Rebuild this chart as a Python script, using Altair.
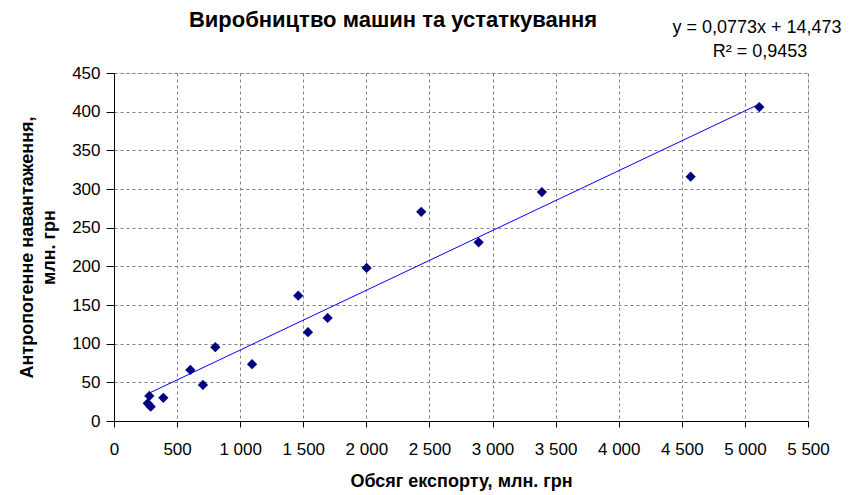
import altair as alt
import pandas as pd

export_vals = [267, 280, 291, 391, 605, 705, 803, 1094, 1460, 1537, 1693, 2002, 2435, 2890, 3391, 4570, 5114]
load_vals = [22.9, 32.4, 18.5, 30, 66, 46.6, 95.4, 73.4, 162, 114.8, 133.3, 198, 270.5, 231, 296, 316, 406]
slope = 0.0773
intercept = 14.473

title_text = "Виробництво машин та устаткування"
eq_line1 = "y = 0,0773x + 14,473"
eq_line2 = "R² = 0,9453"
x_title = "Обсяг експорту, млн. грн"
y_title = ["Антропогенне навантаження,", "млн. грн"]
x_ticks = list(range(0, 5501, 500))
y_ticks = list(range(0, 451, 50))

df = pd.DataFrame({"x": export_vals, "y": load_vals})
xmin, xmax = min(export_vals), max(export_vals)
trend = pd.DataFrame({"x": [xmin, xmax], "y": [slope * xmin + intercept, slope * xmax + intercept]})

FONT = "Liberation Sans"
fmt = "replace(format(datum.value, ',d'), ',', ' ')"

xscale = alt.Scale(domain=[0, 5500], nice=False, zero=True)
yscale = alt.Scale(domain=[0, 450], nice=False)

xaxis = alt.Axis(values=x_ticks, labelExpr=fmt, title=x_title, labelOverlap=False, labelFlush=False,
                 grid=True, gridDash=[3, 3], gridColor="#808080",
                 domainColor="black", tickColor="black", tickSize=6,
                 labelFont=FONT, labelFontSize=17, labelColor="black", labelPadding=14,
                 titleFont=FONT, titleFontSize=18, titleFontWeight="bold", titleColor="black",
                 titlePadding=15)
yaxis = alt.Axis(values=y_ticks, title=y_title, labelOverlap=False, labelFlush=False,
                 grid=True, gridDash=[3, 3], gridColor="#808080",
                 domainColor="black", tickColor="black", tickSize=8,
                 labelFont=FONT, labelFontSize=17, labelColor="black", labelPadding=6,
                 titleFont=FONT, titleFontSize=18, titleFontWeight="bold", titleColor="black",
                 titlePadding=13, titleLineHeight=22)

line = alt.Chart(trend).mark_line(color="#0000FF", strokeWidth=1).encode(
    x=alt.X("x:Q", scale=xscale, axis=xaxis),
    y=alt.Y("y:Q", scale=yscale, axis=yaxis),
)

points = alt.Chart(df).mark_point(shape="diamond", filled=True, color="#000080", size=105, opacity=1).encode(
    x=alt.X("x:Q", scale=xscale, axis=xaxis),
    y=alt.Y("y:Q", scale=yscale, axis=yaxis),
)

one = pd.DataFrame({"a": [0]})
title_mark = alt.Chart(one).mark_text(text=title_text, font=FONT, fontSize=22, fontWeight="bold",
                                      color="black", align="center", baseline="middle").encode(
    x=alt.value(279), y=alt.value(-53))
eq1 = alt.Chart(one).mark_text(text=eq_line1, font=FONT, fontSize=18, color="black",
                               align="center", baseline="middle").encode(
    x=alt.value(643), y=alt.value(-45))
eq2 = alt.Chart(one).mark_text(text=eq_line2, font=FONT, fontSize=18, color="black",
                               align="center", baseline="middle").encode(
    x=alt.value(646), y=alt.value(-21))

chart = alt.layer(line, points, title_mark, eq1, eq2).properties(
    width=694, height=348,
    autosize=alt.AutoSizeParams(type="none"),
    padding={"left": 106, "top": 65, "right": 43, "bottom": 72},
).configure_view(stroke="#808080", strokeWidth=1).configure(background="white")

chart.save("out.html", embed_options={"renderer": "svg", "actions": False})
